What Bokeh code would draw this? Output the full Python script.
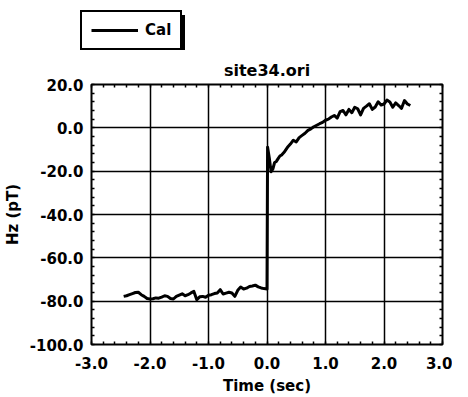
from bokeh.plotting import figure
from bokeh.models import (Range1d, SingleIntervalTicker, LinearAxis, Legend, LegendItem,
                          NumeralTickFormatter)
from bokeh.embed import file_html
from bokeh.resources import INLINE

# ---- data ----
time_sec = [-2.45, -2.40, -2.35, -2.30, -2.25, -2.20, -2.15, -2.10, -2.05, -2.00,
            -1.95, -1.90, -1.85, -1.80, -1.75, -1.70, -1.65, -1.60, -1.55, -1.50,
            -1.45, -1.40, -1.35, -1.30, -1.25, -1.20, -1.15, -1.10, -1.05, -1.00,
            -0.95, -0.90, -0.85, -0.80, -0.75, -0.70, -0.65, -0.60, -0.55, -0.50,
            -0.45, -0.40, -0.35, -0.30, -0.25, -0.20, -0.15, -0.10, -0.05, 0.00,
            0.01, 0.04, 0.07, 0.10, 0.13, 0.16, 0.19, 0.22, 0.25, 0.30,
            0.35, 0.40, 0.45, 0.50, 0.55, 0.60, 0.65, 0.70, 0.75, 0.80,
            0.85, 0.90, 0.95, 1.00, 1.05, 1.10, 1.15, 1.20, 1.25, 1.30,
            1.35, 1.40, 1.45, 1.50, 1.55, 1.60, 1.65, 1.70, 1.75, 1.80,
            1.85, 1.90, 1.95, 2.00, 2.05, 2.10, 2.15, 2.20, 2.25, 2.30,
            2.35, 2.40, 2.45]
hz_pt = [-77.8, -77.5, -77.0, -76.5, -76.0, -75.9, -77.0, -77.8, -78.8, -79.0,
         -78.9, -78.5, -78.6, -78.1, -77.5, -77.8, -78.8, -79.0, -77.8, -77.2,
         -76.6, -77.5, -77.0, -76.2, -75.5, -79.3, -78.0, -77.8, -78.2, -77.3,
         -77.0, -76.5, -76.2, -74.7, -76.7, -76.3, -75.9, -76.2, -77.8, -75.0,
         -73.5, -74.4, -74.0, -73.2, -73.0, -72.6, -73.4, -73.9, -74.2, -74.4,
         -9.0, -14.0, -20.3, -19.0, -16.0, -15.5, -14.2, -13.0, -12.5, -11.0,
         -9.0, -7.5, -5.7, -6.5, -4.5, -3.5, -2.5, -1.2, -0.5, 0.5,
         1.2, 1.9, 2.5, 3.5, 4.0, 5.0, 5.7, 4.5, 7.5, 8.0,
         6.0, 8.5, 7.0, 9.5, 8.8, 6.0, 9.0, 10.0, 11.1, 8.5,
         9.6, 12.0, 10.5, 11.0, 12.8, 11.9, 9.5, 11.5, 10.3, 9.0,
         12.6, 11.0, 10.3]
series_name = "Cal"
chart_title = "site34.ori"
x_label = "Time (sec)"
y_label = "Hz (pT)"

FONT = "DejaVu Sans"

# ---------------- main chart ----------------
p = figure(width=452, height=347, output_backend="svg", toolbar_location=None,
           x_range=Range1d(-3, 3), y_range=Range1d(-100, 20),
           min_border_left=85, min_border_right=10, min_border_top=34,
           min_border_bottom=52, x_axis_location=None, y_axis_location=None)

p.title.text = chart_title
p.title.align = "center"
p.title.text_font = FONT
p.title.text_font_style = "bold"
p.title.text_font_size = "16px"
p.title.text_color = "black"

p.outline_line_color = "black"
p.outline_line_width = 2
p.outline_line_alpha = 1.0

xt = SingleIntervalTicker(interval=1, num_minor_ticks=5)
yt = SingleIntervalTicker(interval=20, num_minor_ticks=5)


def style_axis(ax, labels=True):
    ax.axis_line_color = None
    ax.major_tick_in = 0
    ax.major_tick_out = 0
    ax.minor_tick_in = 3
    ax.minor_tick_out = 0
    ax.minor_tick_line_color = "black"
    ax.minor_tick_line_width = 1.5
    ax.major_label_text_font = FONT
    ax.major_label_text_font_style = "bold"
    ax.major_label_text_font_size = "15px"
    ax.major_label_text_color = "black"
    ax.axis_label_text_font = FONT
    ax.axis_label_text_font_style = "bold"
    ax.axis_label_text_font_size = "15px"
    ax.axis_label_text_color = "black"
    if not labels:
        ax.major_label_text_font_size = "0px"
        ax.major_label_text_alpha = 0
        ax.major_label_standoff = 0


xb = LinearAxis(ticker=xt, formatter=NumeralTickFormatter(format="0.0"), axis_label=x_label)
style_axis(xb)
xb.major_label_standoff = 12
xb.axis_label_standoff = 5
p.add_layout(xb, "below")

yl = LinearAxis(ticker=yt, formatter=NumeralTickFormatter(format="0.0"), axis_label=y_label)
style_axis(yl)
yl.major_label_standoff = 8
yl.axis_label_standoff = 5
p.add_layout(yl, "left")

xa = LinearAxis(ticker=xt)
style_axis(xa, labels=False)
p.add_layout(xa, "above")

yr = LinearAxis(ticker=yt)
style_axis(yr, labels=False)
p.add_layout(yr, "right")

p.xgrid.ticker = xt
p.ygrid.ticker = yt
for g in (p.xgrid, p.ygrid):
    g.grid_line_color = "black"
    g.grid_line_width = 1.5
    g.grid_line_alpha = 1.0

p.line(time_sec, hz_pt, line_color="black", line_width=3, line_join="round")

# ---------------- legend strip above the chart ----------------
# the series is drawn here again but outside the visible range; only its
# legend swatch shows
lg = figure(width=452, height=50, output_backend="svg", toolbar_location=None,
            x_range=Range1d(100, 101), y_range=Range1d(100, 101),
            min_border_left=0, min_border_right=0, min_border_top=0,
            min_border_bottom=0, x_axis_location=None, y_axis_location=None)
lg.outline_line_color = None
lg.xgrid.visible = False
lg.ygrid.visible = False
lr = lg.line(time_sec, hz_pt, line_color="black", line_width=3)


def make_legend(loc, shadow=False):
    label = " " if shadow else series_name
    leg = Legend(items=[LegendItem(label=label, renderers=[lr])], location=loc)
    leg.border_line_color = "black"
    leg.border_line_width = 2
    leg.border_line_alpha = 1.0
    leg.background_fill_color = "black" if shadow else "white"
    leg.background_fill_alpha = 1.0
    leg.label_text_font = FONT
    leg.label_text_font_style = "bold"
    leg.label_text_font_size = "15px"
    leg.label_text_color = "black"
    leg.label_width = 26
    leg.glyph_width = 47
    leg.glyph_height = 16
    leg.padding = 9
    leg.margin = 0
    leg.spacing = 0
    leg.label_standoff = 7
    if shadow:
        leg.label_text_alpha = 0
    return leg


lg.add_layout(make_legend((83, -3), shadow=True), "center")
lg.add_layout(make_legend((80, 0)), "center")

open("out.html", "w").write(file_html([lg, p], INLINE))
